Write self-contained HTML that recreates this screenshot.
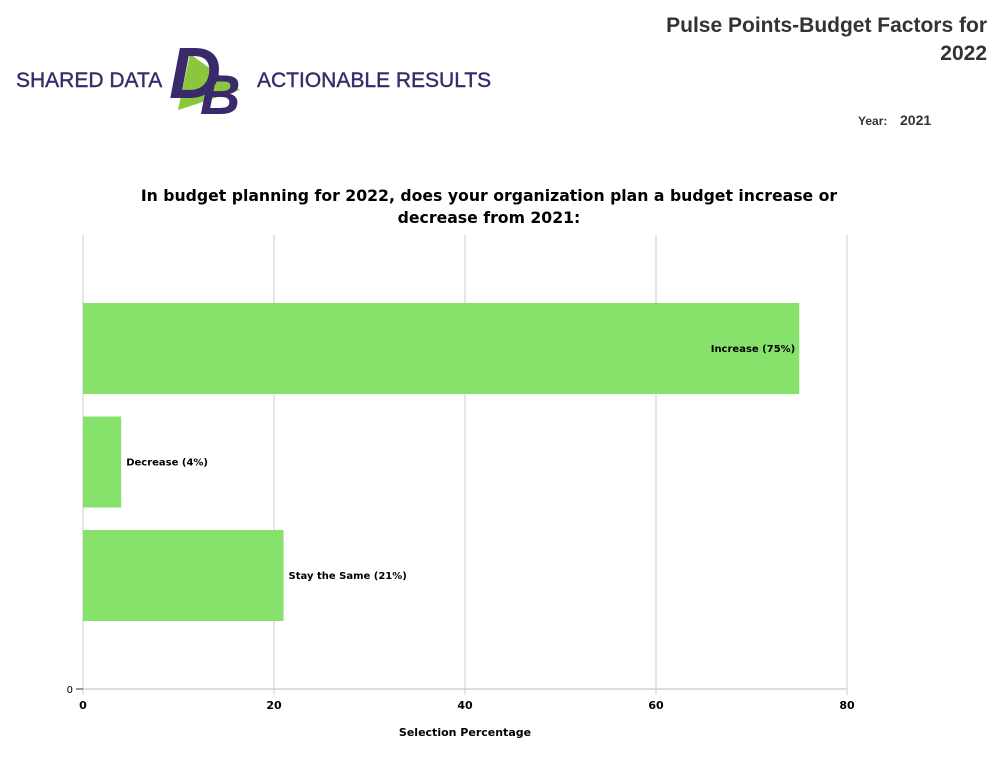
<!DOCTYPE html>
<html><head><meta charset="utf-8"><style>
body{margin:0;width:1003px;height:778px;background:#fff;overflow:hidden;font-family:"Liberation Sans",sans-serif;position:relative}
.abs{position:absolute}
</style></head><body>
<div class="abs" style="left:14px;top:38px;width:490px;height:80px">
<svg width="490" height="80">
<text x="2" y="49" font-family="Liberation Sans" font-size="21" fill="#3a2a6b" stroke="#3a2a6b" stroke-width="0.4">SHARED DATA</text>
<polygon points="176,16 226,52 164,72" fill="#8cc63f"/>
<text x="155" y="60" font-family="Liberation Sans" font-weight="bold" font-style="italic" font-size="72" fill="#3a2a6b">D</text>
<text x="186" y="76" font-family="Liberation Sans" font-weight="bold" font-style="italic" font-size="56" fill="#3a2a6b">B</text>
<text x="243" y="49" font-family="Liberation Sans" font-size="21" fill="#3a2a6b" stroke="#3a2a6b" stroke-width="0.4">ACTIONABLE RESULTS</text>
</svg></div>
<div class="abs" style="right:16px;top:12px;text-align:right;font-weight:bold;font-size:21px;line-height:28px;color:#333">Pulse Points-Budget Factors for<br>2022</div>
<div class="abs" style="left:858px;top:114px;font-size:12px;font-weight:bold;color:#333">Year:</div>
<div class="abs" style="left:900px;top:112px;font-size:14px;font-weight:bold;color:#333">2021</div>
<svg class="abs" style="left:0;top:0" width="1003" height="778" id="chart">
<text x="489" y="201" text-anchor="middle" font-family="DejaVu Sans" font-weight="bold" font-size="15.7">In budget planning for 2022, does your organization plan a budget increase or</text>
<text x="489" y="223" text-anchor="middle" font-family="DejaVu Sans" font-weight="bold" font-size="15.7">decrease from 2021:</text>
<g id="g"></g>
</svg>
<script>
const categories=["Increase","Decrease","Stay the Same"];
const values=[75,4,21];
const xTicks=[0,20,40,60,80];
const NS="http://www.w3.org/2000/svg";
const g=document.getElementById('g');
const x=v=>83+v*(847-83)/80;
const top0=235,base=689;
const band=i=>303+i*113.5;
function el(t,a){const e=document.createElementNS(NS,t);for(const k in a)e.setAttribute(k,a[k]);g.appendChild(e);return e;}
xTicks.forEach(t=>{
 const l=el('line',{x1:x(t),x2:x(t),y1:top0,y2:base+6,stroke:'#ccc'});
 
 
 const tx=el('text',{x:x(t),y:base+20,'text-anchor':'middle','font-size':11,'font-family':'DejaVu Sans','font-weight':'bold'});
 tx.textContent=t;
 
 
});
const ax=el('line',{x1:x(0)-7,x2:x(80),y1:base,y2:base,stroke:'#bbb'});


const tk=el('line',{x1:x(0)-7,x2:x(0),y1:base,y2:base,stroke:'#333'});


const y0=el('text',{x:x(0)-10,y:base+4,'text-anchor':'end','font-size':10,'font-family':'DejaVu Sans'});
y0.textContent='0';


categories.forEach((c,i)=>{
 const r=el('rect',{x:x(0),y:band(i),width:x(values[i])-x(0),height:91,fill:'#86e26a'});
 
 
 const inside=values[i]>40;
 const t=el('text',{x:inside?x(values[i])-4:x(values[i])+5,y:band(i)+49,'text-anchor':inside?'end':'start','font-size':10,'font-family':'DejaVu Sans','font-weight':'bold'});
 t.textContent=c+' ('+values[i]+'%)';
 
 
});
const xt=el('text',{x:465,y:736,'text-anchor':'middle','font-size':11,'font-family':'DejaVu Sans','font-weight':'bold'});
xt.textContent='Selection Percentage';


</script>
</body></html>
